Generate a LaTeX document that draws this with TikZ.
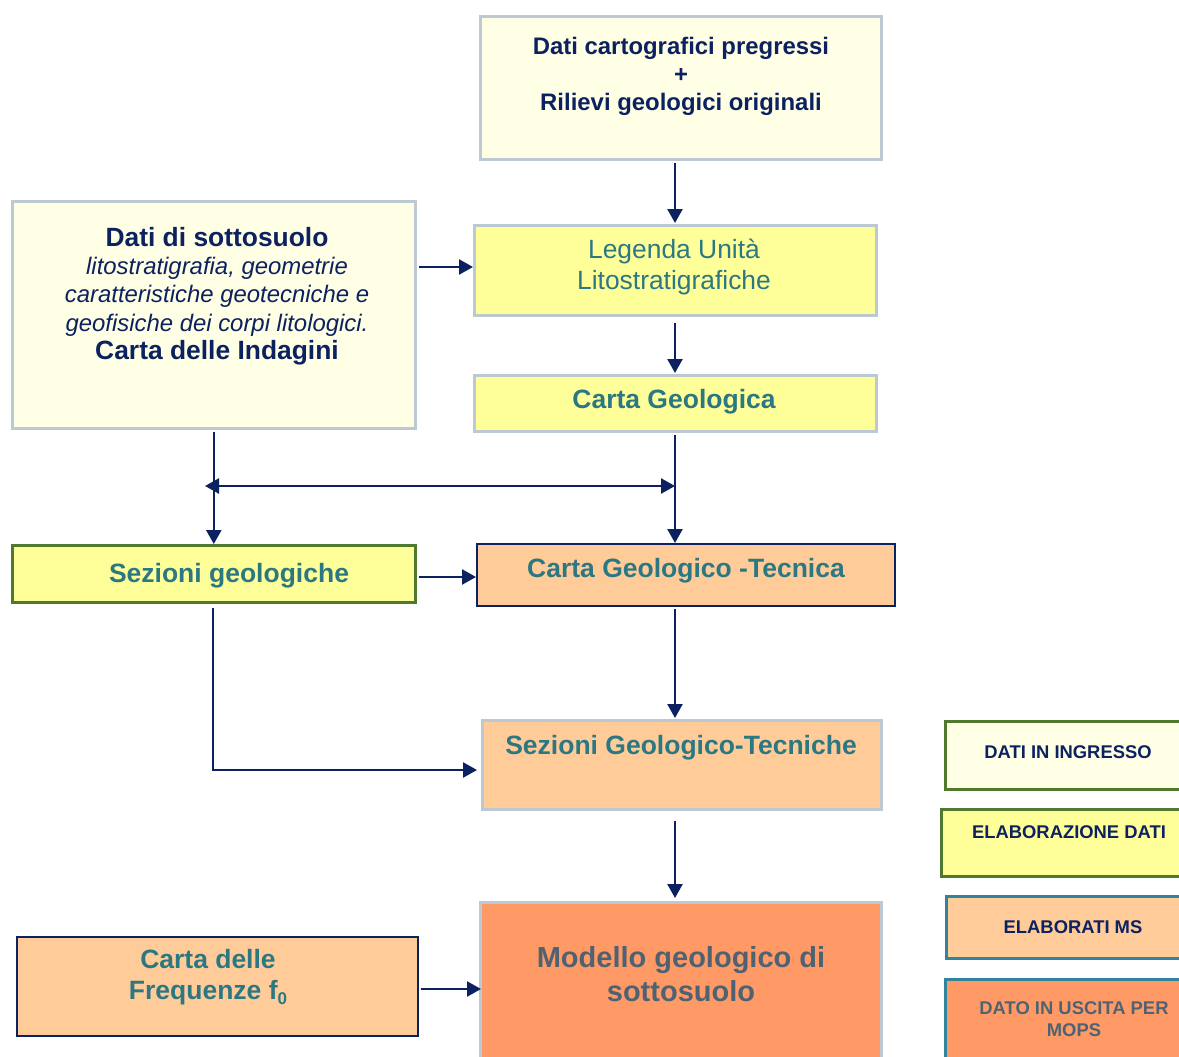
\documentclass[tikz,border=0pt]{standalone}
\usepackage{fontspec}
\setmainfont{Liberation Sans}
\usetikzlibrary{arrows.meta,calc}
\definecolor{navy}{HTML}{0C2160}
\definecolor{tealtxt}{HTML}{2B7782}
\definecolor{slatetxt}{HTML}{4F6272}
\definecolor{lyel}{HTML}{FFFFE5}
\definecolor{yel}{HTML}{FFFF99}
\definecolor{peach}{HTML}{FFCC99}
\definecolor{orng}{HTML}{FF9966}
\definecolor{gborder}{HTML}{BCC9D3}
\definecolor{grnborder}{HTML}{4F7A2E}
\definecolor{tealborder}{HTML}{31849B}
\begin{document}
\begin{tikzpicture}[x=1pt,y=-1pt,
  box/.style={draw, line width=2.6pt, anchor=north west, inner sep=0pt},
  txt/.style={align=center, anchor=center, inner sep=0pt},
  arr/.style={draw=navy, line width=2.5pt, -{Triangle[length=14pt,width=15pt]}},
  darr/.style={draw=navy, line width=2.5pt, {Triangle[length=14pt,width=15pt]}-{Triangle[length=14pt,width=15pt]}},
  big/.style={font=\fontsize{26.5}{31}\selectfont\bfseries}
]
\useasboundingbox (0,0) rectangle (1179,1057);
\clip (0,0) rectangle (1179,1057);
\fill[white] (0,0) rectangle (1179,1057);

% boxes
\node[box, fill=lyel, draw=gborder, minimum width=401pt, minimum height=143pt] (top) at (479,15) {};
\node[box, fill=lyel, draw=gborder, minimum width=403pt, minimum height=227pt] (dati) at (11,200) {};
\node[box, fill=yel, draw=gborder, minimum width=402pt, minimum height=90pt] (leg) at (473,224) {};
\node[box, fill=yel, draw=gborder, minimum width=402pt, minimum height=56pt] (cg) at (473,374) {};
\node[box, fill=yel, draw=grnborder, minimum width=403pt, minimum height=57pt] (sg) at (11,544) {};
\node[box, fill=peach, draw=navy, line width=2pt, minimum width=418pt, minimum height=62pt] (cgt) at (476,543) {};
\node[box, fill=peach, draw=gborder, minimum width=399pt, minimum height=89pt] (sgt) at (481,719) {};
\node[box, fill=orng, draw=gborder, minimum width=401pt, minimum height=175pt] (mod) at (479,901) {};
\node[box, fill=peach, draw=navy, line width=1.6pt, minimum width=401pt, minimum height=99pt] (freq) at (16,936) {};

% legend boxes
\node[box, fill=lyel, draw=grnborder, minimum width=250pt, minimum height=68pt] (l1) at (944,720) {};
\node[box, fill=yel, draw=grnborder, minimum width=255pt, minimum height=67pt] (l2) at (940,808) {};
\node[box, fill=peach, draw=tealborder, minimum width=250pt, minimum height=62pt] (l3) at (945,895) {};
\node[box, fill=orng, draw=tealborder, minimum width=250pt, minimum height=110pt] (l4) at (944,978) {};

% texts
\node[txt, text=navy, font=\fontsize{23.9}{28}\selectfont\bfseries] (ttop) at (681,76)
  {Dati cartografici pregressi\\+\\Rilievi geologici originali};
\node[txt, text=navy, font=\fontsize{23.9}{28.3}\selectfont] (tdati) at (217,296)
  {{\fontsize{26.4}{28}\selectfont\bfseries Dati di sottosuolo}\\
   {\itshape litostratigrafia, geometrie}\\
   {\itshape caratteristiche geotecniche e}\\
   {\itshape geofisiche dei corpi litologici.}\\
   {\fontsize{26.4}{28}\selectfont\bfseries Carta delle Indagini}};
\node[txt, text=tealtxt, font=\fontsize{26.4}{31}\selectfont] (tleg) at (674,267)
  {Legenda Unità\\Litostratigrafiche};
\node[txt, text=tealtxt, big] (tcg) at (674,402) {Carta Geologica};
\node[txt, text=tealtxt, big] (tsg) at (229,576) {Sezioni geologiche};
\node[txt, text=tealtxt, big] (tcgt) at (686,571) {Carta Geologico -Tecnica};
\node[txt, text=tealtxt, big] (tsgt) at (681,748) {Sezioni Geologico-Tecniche};
\node[txt, text=slatetxt, font=\fontsize{29}{34}\selectfont\bfseries] (tmod) at (681,974)
  {Modello geologico di\\sottosuolo};
\node[txt, text=tealtxt, big] (tfreq) at (208,977)
  {Carta delle\\Frequenze f\raisebox{-0.35ex}{\fontsize{17}{17}\selectfont 0}};

\node[txt, text=navy, font=\fontsize{18.4}{22}\selectfont\bfseries] (tl1) at (1068,752) {DATI IN INGRESSO};
\node[txt, text=navy, font=\fontsize{18.4}{22}\selectfont\bfseries] (tl2) at (1069,832) {ELABORAZIONE DATI};
\node[txt, text=navy, font=\fontsize{18.4}{22}\selectfont\bfseries] (tl3) at (1073,927) {ELABORATI MS};
\node[txt, text=slatetxt, font=\fontsize{18.4}{22}\selectfont\bfseries] (tl4) at (1074,1019) {DATO IN USCITA PER\\MOPS};

% connectors
\coordinate (vx) at (675,0);
\draw[arr] ($(top.south -| vx)+(0,2)$) -- ($(leg.north -| vx)+(0,-1)$);
\draw[arr] ($(dati.east |- 0,267)+(2,0)$) -- (leg.west |- 0,267);
\draw[arr] ($(leg.south -| vx)+(0,6)$) -- ($(cg.north -| vx)+(0,-1)$);
\draw[arr] ($(cg.south -| vx)+(0,2)$) -- (cgt.north -| vx);
\draw[arr] ($(dati.south)+(0,2)$) -- (sg.north);
\coordinate (dl) at (205,486);
\draw[darr] (dl) -- (dl -| vx);
\draw[arr] ($(sg.east |- 0,577)+(2,0)$) -- (cgt.west |- 0,577);
\draw[arr] ($(cgt.south -| vx)+(0,2)$) -- ($(sgt.north -| vx)+(0,-1)$);
\draw[arr] ($(sg.south)+(-1,4)$) |- ($(sgt.west |- 0,770)+(-4,0)$);
\draw[arr] ($(sgt.south -| vx)+(0,10)$) -- ($(mod.north -| vx)+(0,-3)$);
\draw[arr] ($(freq.east |- 0,989)+(2,0)$) -- ($(mod.west |- 0,989)+(2,0)$);
\end{tikzpicture}
\end{document}
